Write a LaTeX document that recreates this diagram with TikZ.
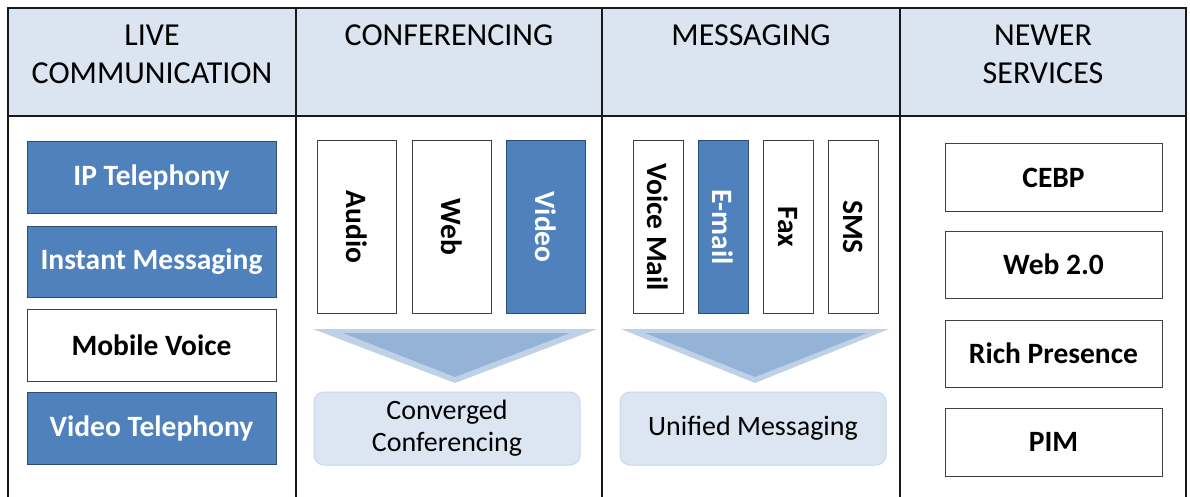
\documentclass[tikz,border=0pt]{standalone}
\usepackage{fontspec}
\setmainfont{Carlito}
\definecolor{hdrfill}{HTML}{DBE5F1}
\definecolor{myblue}{HTML}{4F81BD}
\definecolor{mybluedk}{HTML}{2E4B73}
\definecolor{boxline}{HTML}{404040}
\definecolor{roundfill}{HTML}{DCE6F2}
\definecolor{roundline}{HTML}{C9D7E8}
\definecolor{triout}{HTML}{BFD1E7}
\definecolor{triin}{HTML}{95B3D7}
\begin{document}
\begin{tikzpicture}[x=1pt,y=-1pt,
  frameline/.style={line width=2pt, draw=black!90},
  hdrtext/.style={anchor=north, inner sep=0pt, align=center, font=\fontsize{32}{38}\selectfont},
  box/.style={draw=boxline, line width=1pt, fill=white, inner sep=0pt, align=center,
    font=\fontsize{29.5}{32}\selectfont\bfseries},
  bluebox/.style={box, fill=myblue, draw=mybluedk, text=white},
  vertbox/.style={box, rotate=-90, minimum width=172pt},
  vertblue/.style={bluebox, rotate=-90, minimum width=172pt},
  roundbox/.style={draw=roundline, line width=1pt, fill=roundfill, rounded corners=10pt,
    inner sep=0pt, align=center, minimum width=266pt, minimum height=73pt,
    font=\fontsize{28}{32}\selectfont},
]
\useasboundingbox (0,0) rectangle (1190,497);
\fill[white] (0,0) rectangle (1190,497);
% header band
\fill[hdrfill] (8,8) rectangle (1186,116);
\draw[frameline] (8,497) -- (8,8) -- (1186,8) -- (1186,497);
\draw[frameline] (8,116) -- (1186,116);
\draw[frameline] (296,8) -- (296,497);
\draw[frameline] (602,8) -- (602,497);
\draw[frameline] (900,8) -- (900,497);

% headers
\node[hdrtext] (h1) at (152,25) {LIVE\\COMMUNICATION};
\node[hdrtext] (h2) at (449,25) {CONFERENCING};
\node[hdrtext] (h3) at (751,25) {MESSAGING};
\node[hdrtext] (h4) at (1043,25) {NEWER\\SERVICES};

% live communication
\node[bluebox, minimum width=249pt, minimum height=71pt] (ip) at (151.5,177.5) {IP Telephony};
\node[bluebox, minimum width=249pt, minimum height=71pt] (im) at (151.5,261.5) {Instant Messaging};
\node[box, minimum width=249pt, minimum height=72pt] (mv) at (151.5,345) {Mobile Voice};
\node[bluebox, minimum width=249pt, minimum height=72pt] (vt) at (151.5,428) {Video Telephony};

% conferencing
\node[vertbox, minimum height=79pt] (audio) at (356.5,227) {Audio};
\node[vertbox, minimum height=79pt] (web) at (451.5,227) {Web};
\node[vertblue, minimum height=79pt] (video) at (545.5,227) {Video};
\fill[triout] (313,329) -- (597,329) -- (455,383) -- cycle;
\fill[triin] (343,333) -- (570,333) -- (455,377) -- cycle;
\node[roundbox] (conv) at (447,428.5) {Converged\\Conferencing};

% messaging
\node[vertbox, minimum height=50pt] (vm) at (658,227) {Voice Mail};
\node[vertblue, minimum height=50pt] (email) at (723,227) {E-mail};
\node[vertbox, minimum height=50pt] (fax) at (788,227) {Fax};
\node[vertbox, minimum height=50pt] (sms) at (853,227) {SMS};
\fill[triout] (621,329) -- (889,329) -- (755,383) -- cycle;
\fill[triin] (645,333) -- (867,333) -- (755,377) -- cycle;
\node[roundbox] (unif) at (753,428.5) {Unified Messaging};

% newer services
\node[box, minimum width=217pt, minimum height=67pt] (cebp) at (1053.5,177.5) {CEBP};
\node[box, minimum width=217pt, minimum height=67pt] (web2) at (1053.5,264.5) {Web 2.0};
\node[box, minimum width=217pt, minimum height=67pt] (rich) at (1053.5,353.5) {Rich Presence};
\node[box, minimum width=217pt, minimum height=68pt] (pim) at (1053.5,442) {PIM};
\end{tikzpicture}
\end{document}
